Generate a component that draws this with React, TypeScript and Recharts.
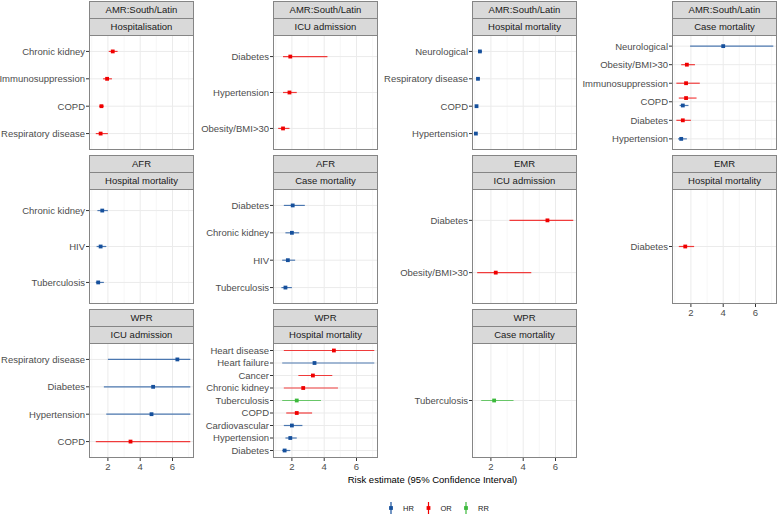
import React from 'react';
import { ScatterChart, Scatter, XAxis, YAxis, ErrorBar, ReferenceLine } from 'recharts';

type Measure = 'HR' | 'OR' | 'RR';
// [risk factor, measure, estimate, lower 95% CI, upper 95% CI]
type Est = [string, Measure, number, number, number];

const amrHospitalisation: Est[] = [
  ['Chronic kidney', 'OR', 2.3, 2.05, 2.6],
  ['Immunosuppression', 'OR', 1.95, 1.7, 2.25],
  ['COPD', 'OR', 1.6, 1.45, 1.75],
  ['Respiratory disease', 'OR', 1.55, 1.25, 2.0],
];
const amrIcu: Est[] = [
  ['Diabetes', 'OR', 1.9, 1.45, 4.2],
  ['Hypertension', 'OR', 1.85, 1.45, 2.3],
  ['Obesity/BMI>30', 'OR', 1.45, 1.15, 1.85],
];
const amrHospMortality: Est[] = [
  ['Neurological', 'HR', 1.32, 1.22, 1.45],
  ['Respiratory disease', 'HR', 1.2, 1.12, 1.3],
  ['COPD', 'HR', 1.11, 1.06, 1.17],
  ['Hypertension', 'HR', 1.07, 1.04, 1.1],
];
const amrCaseMortality: Est[] = [
  ['Neurological', 'HR', 4.0, 1.95, 7.1],
  ['Obesity/BMI>30', 'OR', 1.75, 1.4, 2.25],
  ['Immunosuppression', 'OR', 1.7, 1.1, 2.55],
  ['COPD', 'OR', 1.7, 1.25, 2.35],
  ['COPD', 'HR', 1.5, 1.3, 1.85],
  ['Diabetes', 'OR', 1.5, 1.1, 2.0],
  ['Hypertension', 'HR', 1.4, 1.2, 1.75],
];
const afrHospMortality: Est[] = [
  ['Chronic kidney', 'HR', 1.65, 1.35, 2.0],
  ['HIV', 'HR', 1.55, 1.3, 1.9],
  ['Tuberculosis', 'HR', 1.4, 1.25, 1.75],
];
const afrCaseMortality: Est[] = [
  ['Diabetes', 'HR', 2.05, 1.5, 2.8],
  ['Chronic kidney', 'HR', 2.0, 1.6, 2.45],
  ['HIV', 'HR', 1.75, 1.4, 2.2],
  ['Tuberculosis', 'HR', 1.6, 1.35, 2.0],
];
const emrIcu: Est[] = [
  ['Diabetes', 'OR', 5.5, 3.15, 7.1],
  ['Obesity/BMI>30', 'OR', 2.3, 1.15, 4.5],
];
const emrHospMortality: Est[] = [
  ['Diabetes', 'OR', 1.65, 1.25, 2.2],
];
const wprIcu: Est[] = [
  ['Respiratory disease', 'HR', 6.3, 2.0, 7.1],
  ['Diabetes', 'HR', 4.8, 1.75, 7.1],
  ['Hypertension', 'HR', 4.7, 1.9, 7.1],
  ['COPD', 'OR', 3.4, 1.25, 7.1],
];
const wprHospMortality: Est[] = [
  ['Heart disease', 'OR', 4.6, 1.5, 7.1],
  ['Heart failure', 'HR', 3.4, 1.4, 7.1],
  ['Cancer', 'OR', 3.3, 2.4, 4.5],
  ['Chronic kidney', 'OR', 2.7, 1.5, 4.85],
  ['Tuberculosis', 'RR', 2.3, 1.4, 3.8],
  ['COPD', 'OR', 2.3, 1.65, 3.25],
  ['Cardiovascular', 'HR', 2.0, 1.5, 2.65],
  ['Hypertension', 'HR', 1.9, 1.6, 2.3],
  ['Diabetes', 'HR', 1.55, 1.4, 1.9],
];
const wprCaseMortality: Est[] = [
  ['Tuberculosis', 'RR', 2.2, 1.4, 3.4],
];

const measures: Measure[] = ['HR', 'OR', 'RR'];
const xTicks = [2, 4, 6];
const xGrid = [1, 2, 3, 4, 5, 6, 7];

const panels = [
  { region: 'AMR:South/Latin', outcome: 'Hospitalisation', data: amrHospitalisation, col: 0, row: 0, axis: false },
  { region: 'AMR:South/Latin', outcome: 'ICU admission', data: amrIcu, col: 1, row: 0, axis: false },
  { region: 'AMR:South/Latin', outcome: 'Hospital mortality', data: amrHospMortality, col: 2, row: 0, axis: false },
  { region: 'AMR:South/Latin', outcome: 'Case mortality', data: amrCaseMortality, col: 3, row: 0, axis: false },
  { region: 'AFR', outcome: 'Hospital mortality', data: afrHospMortality, col: 0, row: 1, axis: false },
  { region: 'AFR', outcome: 'Case mortality', data: afrCaseMortality, col: 1, row: 1, axis: false },
  { region: 'EMR', outcome: 'ICU admission', data: emrIcu, col: 2, row: 1, axis: false },
  { region: 'EMR', outcome: 'Hospital mortality', data: emrHospMortality, col: 3, row: 1, axis: true },
  { region: 'WPR', outcome: 'ICU admission', data: wprIcu, col: 0, row: 2, axis: true },
  { region: 'WPR', outcome: 'Hospital mortality', data: wprHospMortality, col: 1, row: 2, axis: true },
  { region: 'WPR', outcome: 'Case mortality', data: wprCaseMortality, col: 2, row: 2, axis: true },
];

const COLORS: Record<Measure, string> = { HR: '#16509c', OR: '#f00000', RR: '#3cb93c' };
const FONT = '"Liberation Sans", Arial, sans-serif';
const BORDER = '#858585';
const COL_LEFT = [89, 273, 472, 672];
const LABEL_W = [89, 78, 94, 96];
const PLOT_TOP = [35, 189, 343];
const PANEL_W = 105;
const PLOT_H = 115;
const STRIP_H = 17;
const AXIS_H = 20;
const X_DOMAIN = [0.83, 7.33];
const TEXT_SIZE = 9.5;

function Strip({ left, top, text }: { left: number; top: number; text: string }) {
  return (
    <div
      style={{
        position: 'absolute', left, top, width: PANEL_W, height: STRIP_H + 1, boxSizing: 'border-box',
        background: '#d9d9d9', border: `1px solid ${BORDER}`, color: '#1a1a1a', fontSize: TEXT_SIZE,
        textAlign: 'center', lineHeight: `${STRIP_H - 1}px`,
      }}
    >
      {text}
    </div>
  );
}

function Panel({ p }: { p: (typeof panels)[number] }) {
  const left = COL_LEFT[p.col];
  const lw = LABEL_W[p.col];
  const top = PLOT_TOP[p.row];
  const labels: string[] = [];
  p.data.forEach((d) => { if (!labels.includes(d[0])) labels.push(d[0]); });
  const rows = p.data.map((d) => {
    const same = p.data.filter((e) => e[0] === d[0]);
    const k = same.indexOf(d);
    const off = same.length > 1 ? (k - (same.length - 1) / 2) * 0.4 : 0;
    return { m: d[1], est: d[2], y: labels.indexOf(d[0]) + off, err: [d[2] - d[3], d[4] - d[2]] };
  });
  const h = PLOT_H + (p.axis ? AXIS_H : 0);
  const w = lw + PANEL_W;
  const yTick = (t: any) => (
    <text x={t.x} y={t.y} dy="0.355em" textAnchor="end" fontSize={TEXT_SIZE} fill="#4d4d4d">
      {labels[t.payload.value]}
    </text>
  );
  return (
    <>
      <Strip left={left} top={top - 2 * STRIP_H} text={p.region} />
      <Strip left={left} top={top - STRIP_H} text={p.outcome} />
      <div style={{ position: 'absolute', left: left - lw, top, width: w, height: h }}>
        <ScatterChart width={w} height={h} margin={{ top: 0, right: 0, bottom: 0, left: 0 }}>
          <XAxis
            type="number" dataKey="est" domain={X_DOMAIN} ticks={xTicks} allowDataOverflow
            hide={!p.axis} height={AXIS_H} tickSize={3} axisLine={false}
            tickLine={{ stroke: '#333' }} tick={{ fontSize: TEXT_SIZE, fill: '#4d4d4d' }}
          />
          <YAxis
            type="number" dataKey="y" domain={[-0.6, labels.length - 0.4]} reversed allowDataOverflow
            ticks={labels.map((_, i) => i)} interval={0}
            width={lw} tickSize={3} tickMargin={1} axisLine={false} tickLine={{ stroke: '#333' }}
            tick={yTick}
          />
          {xGrid.map((v) => (
            <ReferenceLine key={`x${v}`} x={v} stroke={v % 2 === 0 ? '#ebebeb' : '#f3f3f3'} strokeWidth={v % 2 === 0 ? 1 : 0.7} />
          ))}
          {labels.map((_, i) => (
            <ReferenceLine key={`y${i}`} y={i} stroke="#ebebeb" strokeWidth={1} />
          ))}
          {measures.map((m) => {
            const d = rows.filter((r) => r.m === m);
            if (!d.length) return null;
            return (
              <Scatter
                key={m} data={d} isAnimationActive={false}
                shape={(s: any) => <rect x={s.cx - 1.9} y={s.cy - 1.9} width={3.8} height={3.8} fill={COLORS[m]} />}
              >
                <ErrorBar dataKey="err" direction="x" width={0} stroke={COLORS[m]} strokeOpacity={0.75} strokeWidth={1.2} isAnimationActive={false} />
              </Scatter>
            );
          })}
        </ScatterChart>
      </div>
      <div
        style={{
          position: 'absolute', left, top, width: PANEL_W, height: PLOT_H, boxSizing: 'border-box',
          border: `1px solid ${BORDER}`, pointerEvents: 'none',
        }}
      />
    </>
  );
}

function LegendKey({ x, m }: { x: number; m: Measure }) {
  return (
    <g>
      <line x1={x} x2={x} y1={2} y2={14} stroke={COLORS[m]} strokeWidth={1.2} />
      <rect x={x - 1.9} y={6.1} width={3.8} height={3.8} fill={COLORS[m]} />
      <text x={x + 12} y={10.6} fontSize={7.5} fill="#1a1a1a">{m}</text>
    </g>
  );
}

export default function App() {
  return (
    <div style={{ position: 'absolute', left: 0, top: 0, width: 778, height: 515, background: '#fff', fontFamily: FONT }}>
      {panels.map((p) => <Panel key={`${p.region}-${p.outcome}`} p={p} />)}
      <div style={{ position: 'absolute', left: 89, width: 687, top: 474, textAlign: 'center', fontSize: TEXT_SIZE, color: '#000' }}>
        Risk estimate (95% Confidence Interval)
      </div>
      <svg style={{ position: 'absolute', left: 0, top: 500 }} width={778} height={16} fontFamily={FONT}>
        {measures.map((m, i) => <LegendKey key={m} x={391 + i * 37.5} m={m} />)}
      </svg>
    </div>
  );
}
